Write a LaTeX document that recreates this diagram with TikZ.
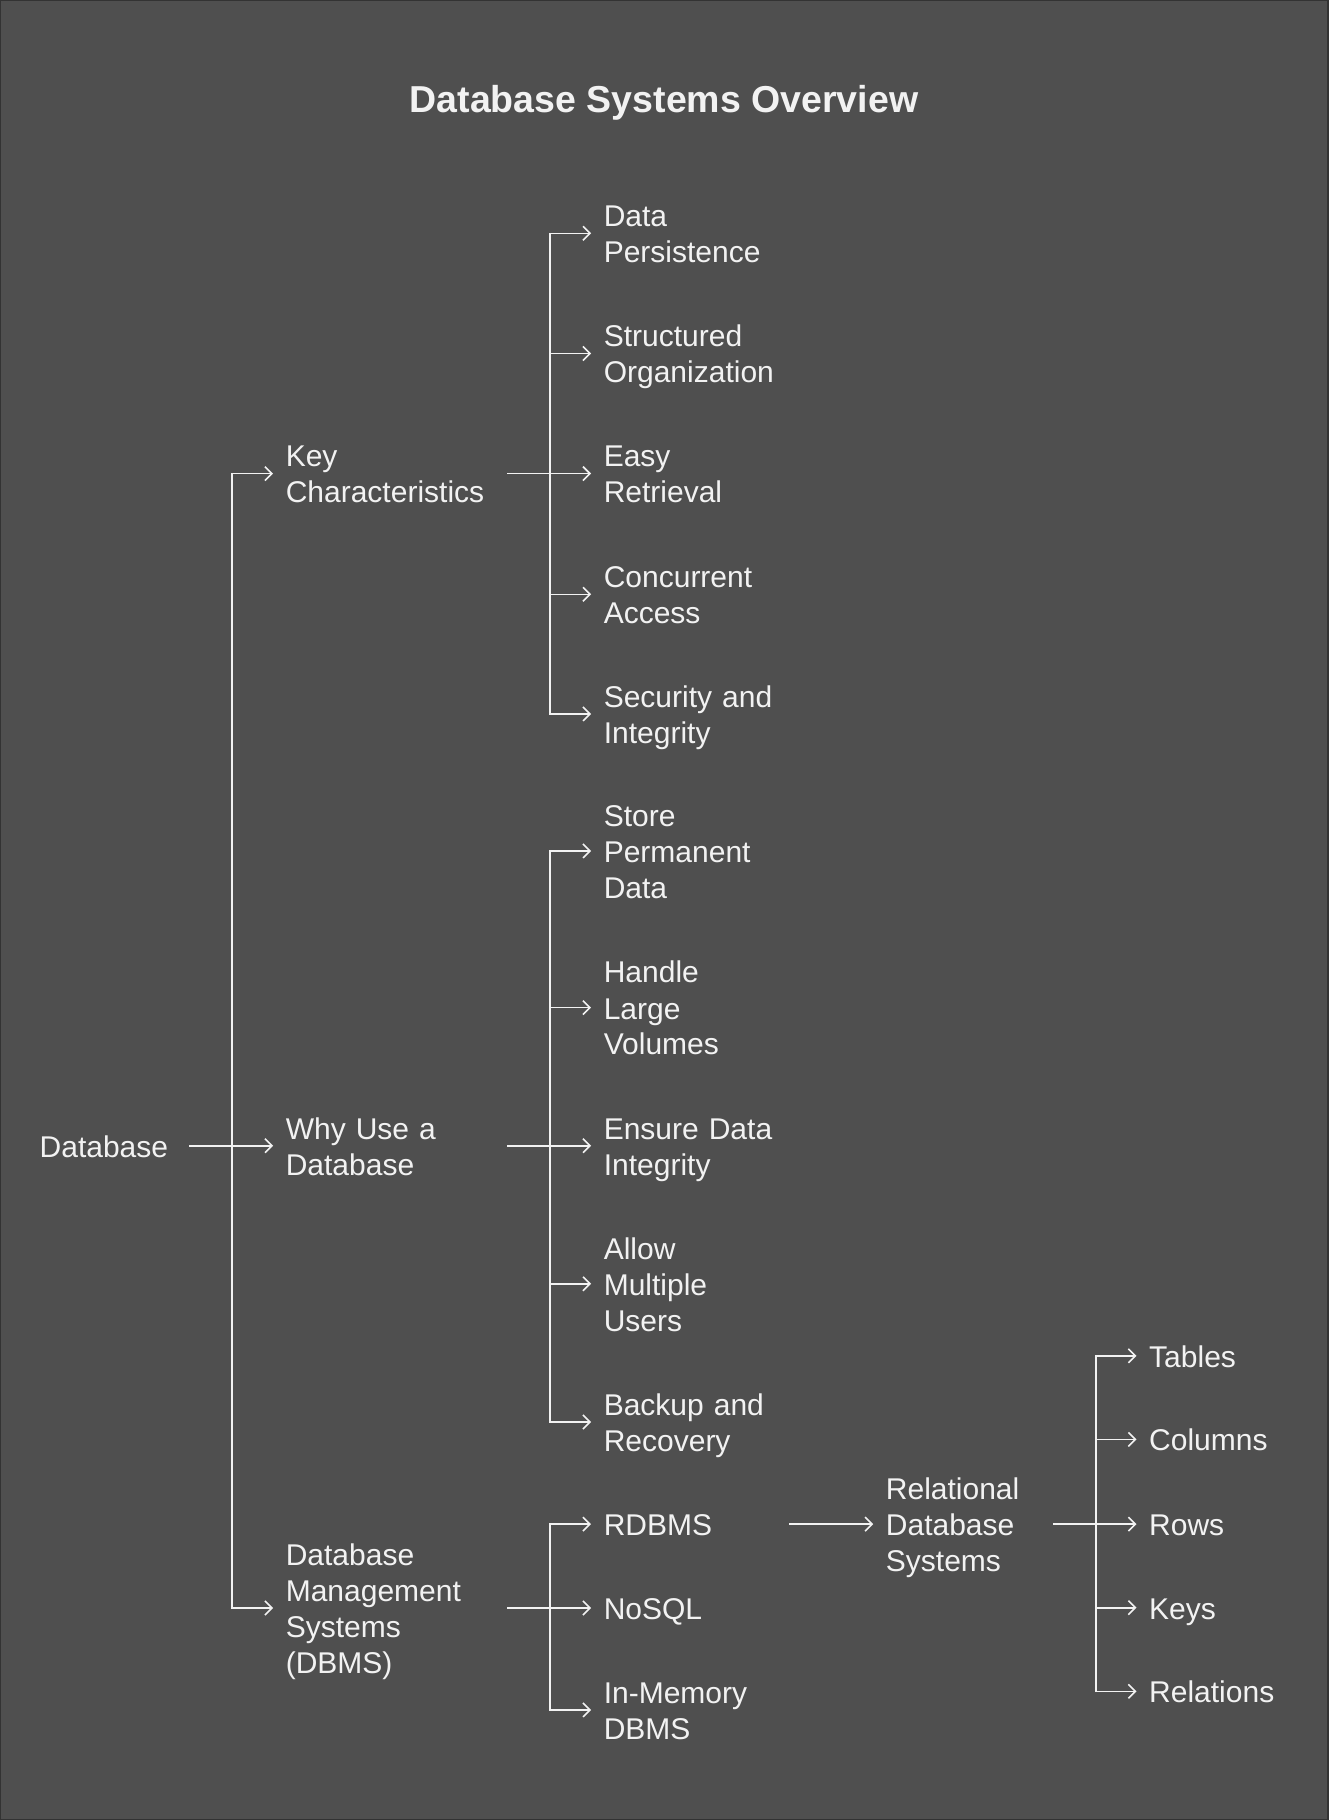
\documentclass[tikz,border=0pt]{standalone}
\usepackage{fontspec}
\setmainfont{Liberation Sans}
\usetikzlibrary{arrows.meta}
\definecolor{dbbg}{HTML}{4F4F4F}
\definecolor{dbframe}{HTML}{333333}
\definecolor{dbink}{HTML}{F2F2F2}

\begin{document}
\begin{tikzpicture}[x=1pt, y=-1pt,
    item/.style={anchor=west, align=left, text=dbink, inner xsep=12.5pt, inner ysep=0pt,
      text height=29pt, execute at end node={\vphantom{g}}, font=\fontsize{30}{36}\selectfont},
    link/.style={draw=dbink, line width=1.6pt, -{Straight Barb[length=7pt,width=14pt]}}]
  \useasboundingbox (0,0) rectangle (1328,1820);
  \draw[fill=dbbg, draw=dbframe, line width=2pt] (0,0) rectangle (1328,1820);

  \node[text=dbink, font=\fontsize{37.5}{44}\selectfont\bfseries] (title) at (664,103) {Database Systems Overview};

  % root and first level
  \node[item, text width=137pt] (db) at (27,1145.7) {Database};
  \node[item, text width=208.9pt] (kc) at (273.1,473.6) {Key\\Characteristics};
  \node[item, text width=208.9pt] (why) at (273.1,1145.7) {Why Use a\\Database};
  \node[item, text width=208.9pt] (dbms) at (273.1,1608) {Database\\Management\\Systems\\(DBMS)};

  % key characteristics
  \node[item, text width=172.9pt] (dp) at (591.1,233.3) {Data\\Persistence};
  \node[item, text width=172.9pt] (so) at (591.1,353.5) {Structured\\Organization};
  \node[item, text width=172.9pt] (er) at (591.1,473.6) {Easy\\Retrieval};
  \node[item, text width=172.9pt] (ca) at (591.1,594.3) {Concurrent\\Access};
  \node[item, text width=172.9pt] (si) at (591.1,713.9) {Security and\\Integrity};

  % why use a database
  \node[item, text width=172.9pt] (spd) at (591.1,850.9) {Store\\Permanent\\Data};
  \node[item, text width=172.9pt] (hlv) at (591.1,1007.6) {Handle\\Large\\Volumes};
  \node[item, text width=172.9pt] (edi) at (591.1,1145.7) {Ensure Data\\Integrity};
  \node[item, text width=172.9pt] (amu) at (591.1,1283.8) {Allow\\Multiple\\Users};
  \node[item, text width=172.9pt] (bar) at (591.1,1422) {Backup and\\Recovery};

  % dbms kinds
  \node[item, text width=172.9pt] (rdbms) at (591.1,1524.1) {RDBMS};
  \node[item, text width=172.9pt] (nosql) at (591.1,1608) {NoSQL};
  \node[item, text width=172.9pt] (imdb) at (591.1,1709.9) {In-Memory\\DBMS};

  % relational
  \node[item, text width=154.8pt] (rds) at (873.2,1524.1) {Relational\\Database\\Systems};
  \node[item] (tab) at (1136.5,1355.8) {Tables};
  \node[item] (col) at (1136.5,1439.4) {Columns};
  \node[item] (row) at (1136.5,1524.1) {Rows};
  \node[item] (key) at (1136.5,1607.7) {Keys};
  \node[item] (rel) at (1136.5,1691.3) {Relations};

  \foreach \c in {kc,why,dbms} \draw[link] (db.east) -- ++(42.5,0) |- (\c.west);
  \foreach \c in {dp,so,er,ca,si} \draw[link] (kc.east) -- ++(42.5,0) |- (\c.west);
  \foreach \c in {spd,hlv,edi,amu,bar} \draw[link] (why.east) -- ++(42.5,0) |- (\c.west);
  \foreach \c in {rdbms,nosql,imdb} \draw[link] (dbms.east) -- ++(42.5,0) |- (\c.west);
  \draw[link] (rdbms.east) -- (rds.west);
  \foreach \c in {tab,col,row,key,rel} \draw[link] (rds.east) -- ++(42.5,0) |- (\c.west);
\end{tikzpicture}
\end{document}
